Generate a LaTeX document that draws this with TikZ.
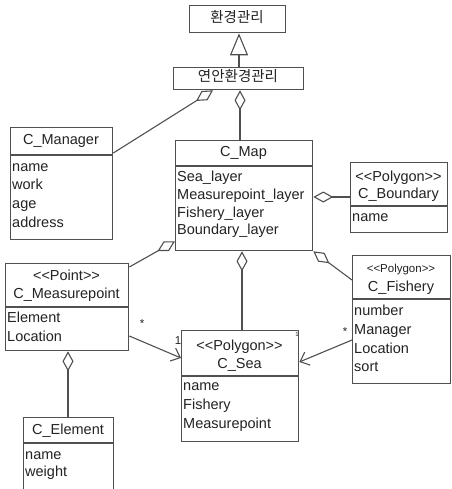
\documentclass[tikz,border=0pt]{standalone}
\usepackage{fontspec}
\setmainfont{Liberation Sans}
\newfontfamily\krfont{Noto Sans CJK KR}
\usetikzlibrary{arrows.meta,calc}
\newcommand{\stereo}[1]{<\kern0pt<#1>\kern0pt>}
\definecolor{lc}{RGB}{80,80,80}
\definecolor{tc}{RGB}{35,35,35}
\begin{document}
\begin{tikzpicture}[x=1pt,y=-1pt,
  box/.style={draw=lc, line width=1.3pt, inner sep=0pt, anchor=north west, fill=white},
  div/.style={draw=lc, line width=1.2pt},
  txt/.style={inner sep=0pt, text=tc, font=\fontsize{14.5}{16}\selectfont, text height=10.5pt, text depth=3pt},
  attr/.style={txt, anchor=west},
  small/.style={inner sep=0pt, text=tc, font=\fontsize{11.5}{13}\selectfont},
  agg/.style={draw=lc, line width=1.1pt, {Diamond[open,length=20pt,width=11pt]}-},
  gen/.style={draw=lc, line width=1.1pt, -{Triangle[open,length=22pt,width=18pt]}},
  asc/.style={draw=lc, line width=1.1pt, -{Straight Barb[length=8pt,width=14pt]}}
]
\clip (0,0) rectangle (451,489);
\fill[white] (0,0) rectangle (451,489);

% top boxes
\node[box, minimum width=96pt, minimum height=27pt] (hk) at (189,5) {};
\node[txt] (hkt) at (237,18.5) {\krfont 환경관리};
\node[box, minimum width=130pt, minimum height=22pt] (yh) at (173,67) {};
\node[txt] (yht) at (238,78) {\krfont 연안환경관리};

% C_Manager
\node[box, minimum width=102pt, minimum height=112pt] (mgr) at (10,127) {};
\draw[div] ($(mgr.north west)+(0,28)$) -- ($(mgr.north east)+(0,28)$);
\node[txt] (mgrh) at (61,141) {C\_Manager};
\node[attr] (mgr1) at (12,168) {name};
\node[attr] (mgr2) at (12,186) {work};
\node[attr] (mgr3) at (12,205) {age};
\node[attr] (mgr4) at (12,224) {address};

% C_Map
\node[box, minimum width=137pt, minimum height=110pt] (map) at (175,140) {};
\draw[div] ($(map.north west)+(0,26)$) -- ($(map.north east)+(0,26)$);
\node[txt] (maph) at (243.5,153) {C\_Map};
\node[attr] (map1) at (177,178) {Sea\_layer};
\node[attr] (map2) at (177,196) {Measurepoint\_layer};
\node[attr] (map3) at (177,214) {Fishery\_layer};
\node[attr] (map4) at (177,231) {Boundary\_layer};

% C_Boundary
\node[box, minimum width=97pt, minimum height=70pt] (bnd) at (350,162) {};
\draw[div] ($(bnd.north west)+(0,44)$) -- ($(bnd.north east)+(0,44)$);
\node[txt] (bnds) at (398.5,178) {\stereo{Polygon}};
\node[txt] (bndh) at (398.5,195) {C\_Boundary};
\node[attr] (bnd1) at (352,218) {name};

% C_Measurepoint
\node[box, minimum width=123pt, minimum height=87pt] (mp) at (5,263) {};
\draw[div] ($(mp.north west)+(0,44)$) -- ($(mp.north east)+(0,44)$);
\node[txt] (mps) at (66.5,277) {\stereo{Point}};
\node[txt] (mph) at (66.5,295) {C\_Measurepoint};
\node[attr] (mp1) at (7,319) {Element};
\node[attr] (mp2) at (7,338) {Location};

% C_Sea
\node[box, minimum width=117pt, minimum height=111pt] (sea) at (181,330) {};
\draw[div] ($(sea.north west)+(0,46)$) -- ($(sea.north east)+(0,46)$);
\node[txt] (seas) at (239.5,347) {\stereo{Polygon}};
\node[txt] (seah) at (239.5,365) {C\_Sea};
\node[attr] (sea1) at (183,387) {name};
\node[attr] (sea2) at (183,406) {Fishery};
\node[attr] (sea3) at (183,425) {Measurepoint};

% C_Fishery
\node[box, minimum width=98pt, minimum height=128pt] (fsh) at (352,255) {};
\draw[div] ($(fsh.north west)+(0,44)$) -- ($(fsh.north east)+(0,44)$);
\node[small] (fshs) at (401,270) {\stereo{Polygon}};
\node[txt] (fshh) at (401,288) {C\_Fishery};
\node[attr] (fsh1) at (354,312) {number};
\node[attr] (fsh2) at (354,331) {Manager};
\node[attr] (fsh3) at (354,350) {Location};
\node[attr] (fsh4) at (354,368) {sort};

% C_Element
\node[box, minimum width=90pt, minimum height=85pt] (elem) at (23,417) {};
\draw[div] ($(elem.north west)+(0,26)$) -- ($(elem.north east)+(0,26)$);
\node[txt] (elemh) at (68,431) {C\_Element};
\node[attr] (elem1) at (25,456) {name};
\node[attr] (elem2) at (25,473) {weight};

% connectors
\draw[gen] ($(yh.north west)+(66,0)$) -- ($(hk.south west)+(50,0)$);
\draw[agg] ($(yh.south west)+(67,0)$) -- ($(map.north west)+(65,0)$);
\draw[agg] ($(yh.south west)+(40,0)$) -- ($(mgr.north east)+(0,26)$);
\draw[agg] ($(map.north east)+(0,57)$) -- ($(bnd.north west)+(0,35)$);
\draw[agg] ($(map.south west)+(0,-10)$) -- ($(mp.north east)+(0,4)$);
\draw[agg] (map.south east) -- ($(fsh.north west)+(0,25)$);
\draw[agg] ($(mp.south west)+(63,0)$) -- ($(elem.north west)+(45,0)$);
\draw[agg] ($(map.south west)+(67,0)$) -- ($(sea.north west)+(61,0)$);
\draw[asc] ($(mp.north east)+(0,73)$) -- ($(sea.north west)+(0,28)$);
\draw[asc] ($(fsh.north west)+(0,85)$) -- ($(sea.north east)+(0,32)$);

% multiplicities
\node[small] (l1) at (142,324) {*};
\node[small] (l2) at (178,341) {1};
\node[small] (l3) at (345,332) {*};
\node[inner sep=0pt, text=tc, font=\fontsize{6}{7}\selectfont] (l4) at (297,334) {1};
\end{tikzpicture}
\end{document}
